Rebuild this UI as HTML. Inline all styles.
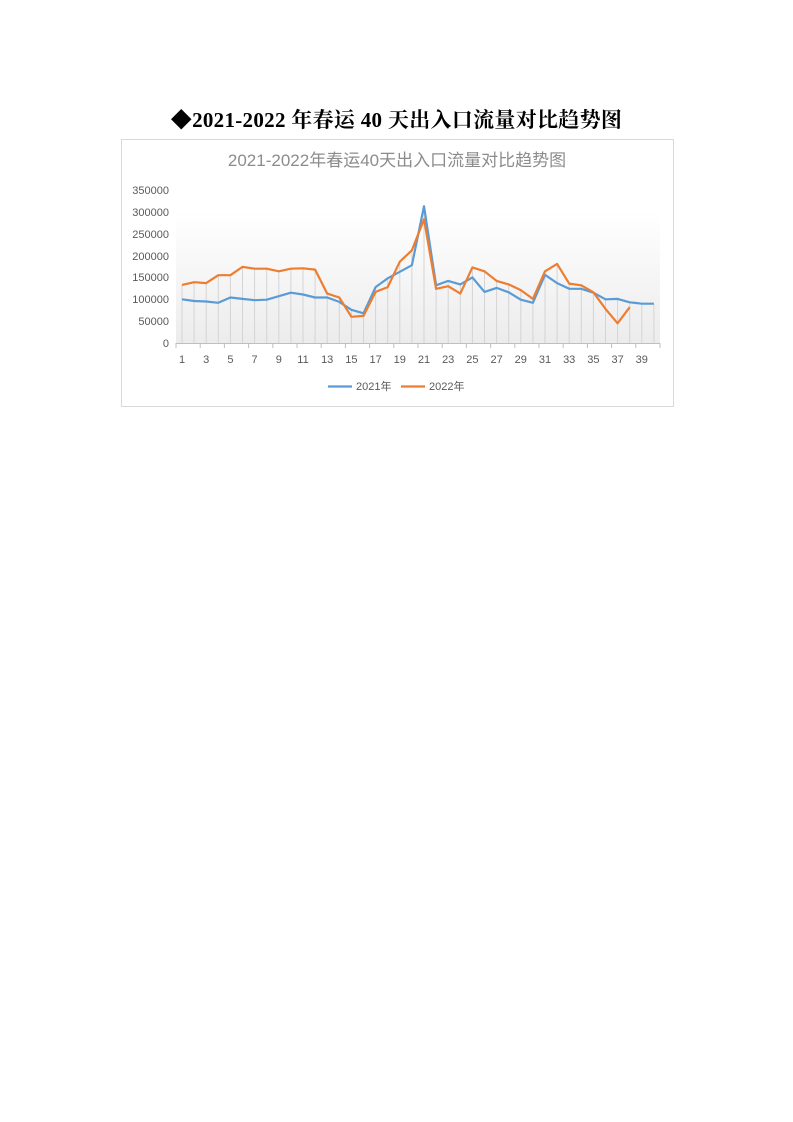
<!DOCTYPE html>
<html><head><meta charset="utf-8"><style>
body{margin:0;background:#fff;width:793px;height:1122px;position:relative;overflow:hidden}
.h{position:absolute;left:0;width:793px;top:104px;text-align:center;font:bold 21px "Liberation Serif","Noto Serif CJK SC",serif;color:#000;letter-spacing:0.3px}
svg{position:absolute;left:0;top:0}
</style></head><body>
<div class="h">◆2021-2022 年春运 40 天出入口流量对比趋势图</div>
<svg width="793" height="1122" xmlns="http://www.w3.org/2000/svg" font-family="Liberation Sans, Noto Sans CJK SC, sans-serif">
<defs><linearGradient id="g" x1="0" y1="0" x2="0" y2="1"><stop offset="0" stop-color="#fff"/><stop offset="1" stop-color="#ececec"/></linearGradient></defs>
<rect x="121.5" y="139.5" width="552" height="267" fill="#fff" stroke="#d9d9d9"/>
<text x="397" y="166" text-anchor="middle" font-size="17" fill="#8c8c8c">2021-2022年春运40天出入口流量对比趋势图</text>
<rect x="176" y="210" width="484" height="133" fill="url(#g)"/>
<g font-size="11" fill="#595959" text-anchor="end">
<text x="169" y="347">0</text><text x="169" y="325">50000</text><text x="169" y="303">100000</text><text x="169" y="281">150000</text><text x="169" y="260">200000</text><text x="169" y="238">250000</text><text x="169" y="216">300000</text><text x="169" y="194">350000</text>
</g>
<g stroke="#d4d4d4" stroke-width="1">
<path d="M182 285V343M194.1 282V343M206.2 283V343M218.3 275V343M230.4 275V343M242.5 267V343M254.6 269V343M266.7 269V343M278.8 271V343M290.9 269V343M303 268V343M315.1 270V343M327.2 294V343M339.3 298V343M351.4 310V343M363.5 313V343M375.6 287V343M387.7 278V343M399.8 262V343M411.9 250V343M424 206V343M436.1 285V343M448.2 281V343M460.3 284V343M472.4 267V343M484.5 271V343M496.6 281V343M508.7 284V343M520.8 290V343M532.9 299V343M545 271V343M557.1 264V343M569.2 284V343M581.3 285V343M593.4 292V343M605.5 299V343M617.6 299V343M629.7 302V343M641.8 304V343M653.9 304V343"/>
</g>
<path d="M176 343.5H660" stroke="#bfbfbf"/>
<g stroke="#bfbfbf"><path d="M176 343V348M200.2 343V348M224.4 343V348M248.6 343V348M272.8 343V348M297 343V348M321.2 343V348M345.4 343V348M369.6 343V348M393.8 343V348M418 343V348M442.2 343V348M466.4 343V348M490.6 343V348M514.8 343V348M539 343V348M563.2 343V348M587.4 343V348M611.6 343V348M635.8 343V348M660 343V348"/></g>
<g font-size="11" fill="#595959" text-anchor="middle">
<text x="182" y="363">1</text><text x="206.2" y="363">3</text><text x="230.4" y="363">5</text><text x="254.6" y="363">7</text><text x="278.8" y="363">9</text><text x="303" y="363">11</text><text x="327.2" y="363">13</text><text x="351.4" y="363">15</text><text x="375.6" y="363">17</text><text x="399.8" y="363">19</text><text x="424" y="363">21</text><text x="448.2" y="363">23</text><text x="472.4" y="363">25</text><text x="496.6" y="363">27</text><text x="520.8" y="363">29</text><text x="545" y="363">31</text><text x="569.2" y="363">33</text><text x="593.4" y="363">35</text><text x="617.6" y="363">37</text><text x="641.8" y="363">39</text>
</g>
<polyline fill="none" stroke="#5b9bd5" stroke-width="2.2" stroke-linejoin="round" points="182,299.3 194.1,301 206.2,301.5 218.3,302.8 230.4,297.5 242.5,298.9 254.6,300.2 266.7,299.7 278.8,296.2 290.9,292.7 303,294.5 315.1,297.5 327.2,297.5 339.3,301.9 351.4,309.8 363.5,313.3 375.6,287.1 387.7,278.3 399.8,271.8 411.9,265.2 424,206.2 436.1,285.3 448.2,280.9 460.3,284.4 472.4,277.4 484.5,291.9 496.6,287.9 508.7,292.3 520.8,299.7 532.9,302.8 545,274.8 557.1,283.1 569.2,288.8 581.3,288.8 593.4,292.7 605.5,299.3 617.6,298.9 629.7,302.3 641.8,303.7 653.9,303.7"/>
<polyline fill="none" stroke="#ed7d31" stroke-width="2.2" stroke-linejoin="round" points="182,284.9 194.1,282.2 206.2,283.1 218.3,275.2 230.4,275.2 242.5,266.9 254.6,268.7 266.7,268.7 278.8,271.3 290.9,268.7 303,268.3 315.1,269.6 327.2,293.6 339.3,297.5 351.4,316.8 363.5,315.9 375.6,291.9 387.7,287.1 399.8,261.7 411.9,250.3 424,219.3 436.1,288.8 448.2,286.2 460.3,293.6 472.4,267.4 484.5,271.3 496.6,280.9 508.7,284.4 520.8,290.1 532.9,298.9 545,271.3 557.1,263.9 569.2,283.6 581.3,285.3 593.4,292.3 605.5,308.9 617.6,323.3 629.7,307.2"/>
<g font-size="11" fill="#595959">
<path d="M328 386.5H352" stroke="#5b9bd5" stroke-width="2.2"/><text x="356" y="390">2021年</text>
<path d="M401 386.5H425" stroke="#ed7d31" stroke-width="2.2"/><text x="429" y="390">2022年</text>
</g>
</svg>
</body></html>
